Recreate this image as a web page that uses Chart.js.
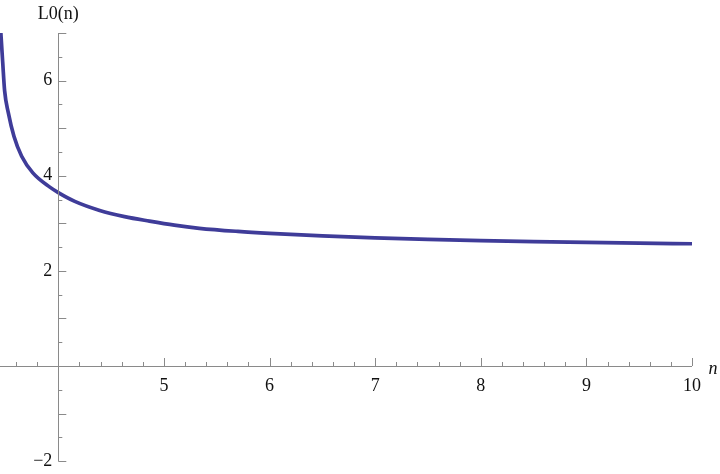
<!DOCTYPE html>
<html>
<head>
<meta charset="utf-8">
<script src="https://cdn.jsdelivr.net/npm/chart.js@4"></script>
<style>
  html, body { margin: 0; padding: 0; background: #fff; }
  #wrap { width: 720px; height: 474px; }
</style>
</head>
<body>
<div id="wrap"><canvas id="lzeroChart" width="720" height="474"></canvas></div>
<script>
// n values and L0(n)
const nValues = [3.45, 3.458, 3.474, 3.492, 3.526, 3.58, 3.653, 3.759, 3.92, 4.0, 4.156, 4.392, 4.627, 4.863, 5.099, 5.335, 5.7, 6.0, 6.5, 7.0, 7.5, 8.0, 8.5, 9.0, 9.5, 10.0];
const l0Values = [7.25, 6.93, 6.37, 5.78, 5.33, 4.83, 4.41, 4.06, 3.76, 3.645, 3.46, 3.27, 3.14, 3.045, 2.96, 2.895, 2.83, 2.79, 2.737, 2.695, 2.662, 2.636, 2.615, 2.598, 2.583, 2.57];

const xTickLabels = [5, 6, 7, 8, 9, 10];
const yTickLabels = [-2, 2, 4, 6];

const axisColor = "#8a8a8a";
const labelFont = "18px 'Liberation Serif', 'DejaVu Serif', serif";

const axesPlugin = {
  id: "mathAxes",
  afterDraw(chart) {
    const c = chart.ctx;
    const xs = chart.scales.x;
    const ys = chart.scales.y;
    const x0 = xs.getPixelForValue(4);
    const y0 = ys.getPixelForValue(0);
    c.save();
    c.strokeStyle = axisColor;
    c.lineWidth = 1;
    // axis lines
    c.beginPath();
    c.moveTo(0, Math.round(y0) + 0.5);
    c.lineTo(xs.getPixelForValue(10), Math.round(y0) + 0.5);
    c.moveTo(Math.round(x0) + 0.5, ys.getPixelForValue(7));
    c.lineTo(Math.round(x0) + 0.5, ys.getPixelForValue(-2));
    c.stroke();
    // x ticks (point up)
    c.beginPath();
    for (let i = 18; i <= 50; i++) {
      const v = i / 5;
      if (v === 4) continue;
      const px = Math.round(xs.getPixelForValue(v)) + 0.5;
      const len = (i % 5 === 0) ? 8 : 4;
      c.moveTo(px, y0);
      c.lineTo(px, y0 - len);
    }
    // y ticks (point right)
    for (let i = -4; i <= 14; i++) {
      const v = i / 2;
      if (v === 0) continue;
      const py = Math.round(ys.getPixelForValue(v)) + 0.5;
      const len = (i % 2 === 0) ? 8 : 4;
      c.moveTo(x0, py);
      c.lineTo(x0 + len, py);
    }
    c.stroke();
    // labels
    c.fillStyle = "#111";
    c.font = labelFont;
    c.textAlign = "center";
    c.textBaseline = "middle";
    xTickLabels.forEach(v => {
      c.fillText(String(v), xs.getPixelForValue(v), y0 + 20);
    });
    c.textAlign = "right";
    yTickLabels.forEach(v => {
      const t = v < 0 ? "\u2212" + Math.abs(v) : String(v);
      c.fillText(t, x0 - 6, ys.getPixelForValue(v));
    });
    c.textAlign = "center";
    c.fillText("L0(n)", x0, 14);
    c.font = "italic " + labelFont;
    c.fillText("n", 713, y0 + 3);
    c.restore();
  }
};

function drawChart() {
  new Chart(document.getElementById("lzeroChart").getContext("2d"), {
    type: "line",
    data: {
      labels: nValues,
      datasets: [{
        label: "L0(n)",
        data: nValues.map((n, i) => ({ x: n, y: l0Values[i] })),
        borderColor: "#3f3c99",
        borderWidth: 3.7,
        pointRadius: 0,
        cubicInterpolationMode: "monotone",
        fill: false,
        clip: 0
      }]
    },
    options: {
      responsive: false,
      animation: false,
      layout: { padding: { top: 33, right: 28, left: 0, bottom: 0 } },
      plugins: {
        legend: { display: false },
        tooltip: { enabled: false }
      },
      scales: {
        x: { type: "linear", min: 3.448, max: 10, display: false },
        y: { type: "linear", min: -2.27, max: 7, display: false }
      }
    },
    plugins: [axesPlugin]
  });
}

Promise.all([
  document.fonts.load("18px 'Liberation Serif'"),
  document.fonts.load("italic 18px 'Liberation Serif'")
]).then(drawChart, drawChart);
</script>
</body>
</html>
